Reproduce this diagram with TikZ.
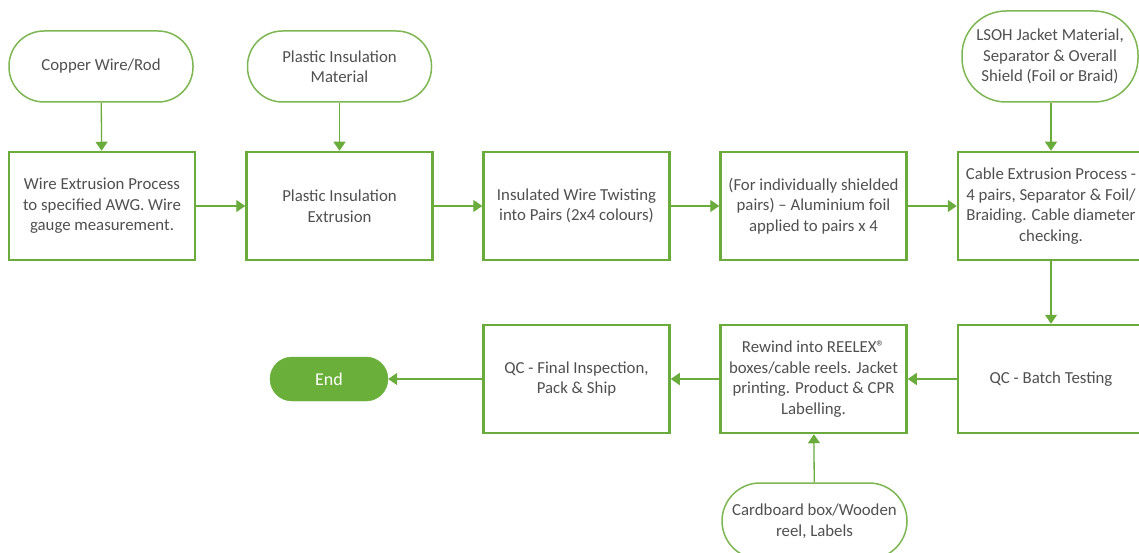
\documentclass[tikz,border=0pt]{standalone}
\usepackage{fontspec}
\setmainfont{Carlito}
\usetikzlibrary{arrows.meta}
\definecolor{boxgreen}{HTML}{6AAC3C}
\definecolor{ovalgreen}{HTML}{7DB652}
\definecolor{txt}{HTML}{505050}
\definecolor{endgreen}{HTML}{6AAF3A}
\begin{document}
\begin{tikzpicture}[x=1pt,y=-1pt,
  basefont/.style={font=\fontsize{16.8}{20.5}\selectfont},
  stepbox/.style={draw=boxgreen, line width=2.5pt, minimum width=186pt, minimum height=108pt, align=center, text=txt, basefont, inner sep=0pt},
  source/.style={draw=ovalgreen, line width=1.5pt, rounded corners=35pt, minimum width=184pt, minimum height=71pt, align=center, text=txt, basefont, inner sep=0pt},
  endnode/.style={fill=endgreen, draw=endgreen, rounded corners=22pt, minimum width=118pt, minimum height=44pt, text=white, font=\fontsize{18}{20}\selectfont},
  flow/.style={draw=boxgreen, line width=1.3pt, -{Triangle[length=9pt,width=12pt]}}
]
\useasboundingbox (0,0) rectangle (1139,553);
\fill[white] (0,0) rectangle (1139,553);

% row 1 process boxes
\node[stepbox] (b1) at (102,206) {Wire Extrusion Process\\to specified AWG. Wire\\gauge measurement.};
\node[stepbox] (b2) at (339.5,206) {Plastic Insulation\\Extrusion};
\node[stepbox] (b3) at (576.5,206) {Insulated Wire Twisting\\into Pairs (2x4 colours)};
\node[stepbox] (b4) at (813.5,206) {(For individually shielded\\pairs) -- Aluminium foil\\applied to pairs x 4};
\node[stepbox] (b5) at (1051,206) {Cable Extrusion Process -\\4 pairs, Separator \& Foil/\\Braiding. Cable diameter\\checking.};

% sources
\node[source] (s1) at (101,66.5) {Copper Wire/Rod};
\node[source] (s2) at (339.5,66.5) {Plastic Insulation\\Material};
\node[source, minimum width=176pt, minimum height=91pt, rounded corners=44pt] (s3) at (1050,56.5) {LSOH Jacket Material,\\Separator \& Overall\\Shield (Foil or Braid)};

% row 2
\node[stepbox] (q1) at (1051,379) {QC - Batch Testing};
\node[stepbox] (rw) at (813.5,379) {Rewind into REELEX®\\boxes/cable reels. Jacket\\printing. Product \& CPR\\Labelling.};
\node[stepbox] (q2) at (576.5,379) {QC - Final Inspection,\\Pack \& Ship};
\node[endnode] (end) at (329,379) {End};
\node[source, minimum width=185pt, minimum height=76pt, rounded corners=38pt] (s4) at (814.5,521) {Cardboard box/Wooden\\reel, Labels};

% connectors
\draw[flow] (s1) -- (b1);
\draw[flow] (s2) -- (b2);
\draw[flow] (s3.south -| b5) -- (b5);
\draw[flow] (b1) -- (b2);
\draw[flow] (b2) -- (b3);
\draw[flow] (b3) -- (b4);
\draw[flow] (b4) -- (b5);
\draw[flow] (b5) -- (q1);
\draw[flow] (q1) -- (rw);
\draw[flow] (rw) -- (q2);
\draw[flow] (q2) -- (end);
\draw[flow] (s4) -- (rw);
\end{tikzpicture}
\end{document}
